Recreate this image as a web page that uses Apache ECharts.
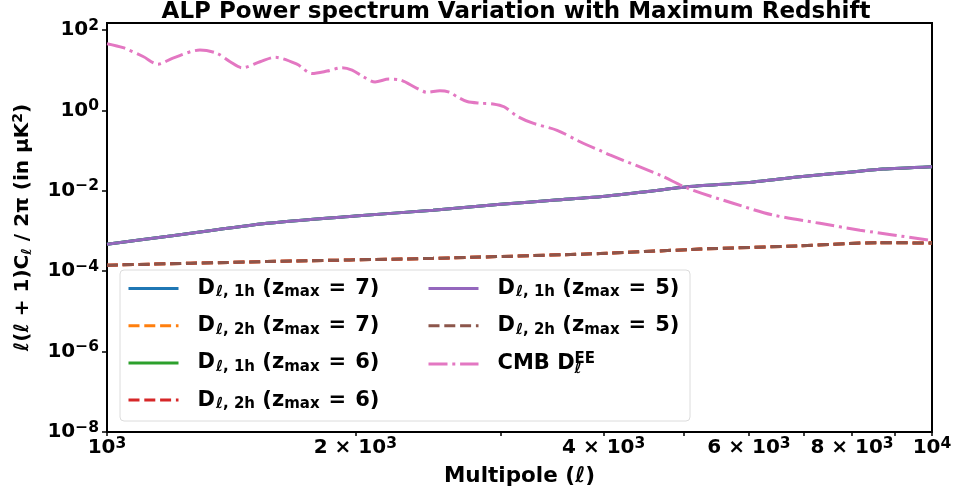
<!DOCTYPE html>
<html><head><meta charset="utf-8">
<script src="https://cdn.jsdelivr.net/npm/echarts@6/dist/echarts.min.js"></script>
<style>html,body{margin:0;padding:0;background:#fff}#c{width:957px;height:495px}</style>
</head><body><div id="c"></div>
<script>
// ---- data ----
const lMultipoles1h = [1000,1200,1563,2000,2484,3000,3500,3960,4500,5060,6015,6918,8000,8721,10000];
const d1hValues = [4.7e-4,7.6e-4,1.55e-3,2.35e-3,3.3e-3,4.6e-3,5.9e-3,7.1e-3,9.5e-3,1.26e-2,1.62e-2,2.24e-2,2.95e-2,3.47e-2,3.98e-2];
const lMultipoles2h = [1000,1563,2484,3960,5234,6918,8600,10000];
const d2hValues = [1.41e-4,1.74e-4,2.09e-4,2.75e-4,3.55e-4,4.27e-4,5.13e-4,5.0e-4];
const lMultipolesCMB = [1000,1046,1106,1153,1202,1296,1359,1410,1458,1533,1598,1699,1772,1848,1927,1982,2044,2113,2197,2264,2375,2443,2532,2604,2656,2732,2833,2937,3029,3140,3283,3512,3745,3993,4069,4680,5060,5739,6415,7315,8180,10000];
const cmbEEValues = [45.7,36.3,21.9,14.1,20.0,31.6,26.3,16.2,11.5,16.2,20.9,14.1,8.3,9.5,11.5,10.0,6.9,5.1,6.0,5.75,3.55,2.82,3.09,2.82,2.19,1.66,1.51,1.45,1.23,0.72,0.48,0.32,0.166,0.093,0.078,0.0245,0.0115,0.0049,0.0025,0.00155,0.00105,0.00058];
const zmaxValues = [7,7,6,6,5,5];
const haloTerms = ['1h','2h','1h','2h','1h','2h'];
const xTickLabels = [1000,2000,4000,6000,8000,10000];
const xTickMarks = [1000,2000,3000,4000,5000,6000,7000,8000,9000,10000];
const yTickExponents = [-8,-6,-4,-2,0,2];

// ---- build ----
const FONT = 'DejaVu Sans';
const colors = ['#1f77b4','#ff7f0e','#2ca02c','#d62728','#9467bd','#8c564b','#e377c2'];
const pts = (ls, vs) => ls.map((l, i) => [Math.log10(l), Math.log10(vs[i])]);
const names = haloTerms.map((h, i) => 'D_' + h + '_' + zmaxValues[i]).concat(['CMB']);

const series = haloTerms.map((h, i) => ({
  name: names[i], type: 'line', symbol: 'none', smooth: 0.2,
  data: h === '1h' ? pts(lMultipoles1h, d1hValues) : pts(lMultipoles2h, d2hValues),
  lineStyle: { color: colors[i], width: 3, type: h === '1h' ? 'solid' : [11, 4.8], cap: 'butt' },
  itemStyle: { color: colors[i] }, z: 2 + i * 0.01
}));
series.push({
  name: 'CMB', type: 'line', symbol: 'none', smooth: 0.3,
  data: pts(lMultipolesCMB, cmbEEValues),
  lineStyle: { color: colors[6], width: 3, type: [19, 4.8, 3, 4.8], cap: 'butt' },
  itemStyle: { color: colors[6] }, z: 3
});

const bold = (fs, extra) => Object.assign({ fontSize: fs, fontWeight: 'bold', fontFamily: FONT, color: '#000' }, extra || {});
const legendRich = {
  d0: bold(21, { lineHeight: 24, padding: [0, 0, 0, 14] }),
  d: bold(21, { lineHeight: 24 }),
  sp: bold(21, { lineHeight: 24, width: 9 }),
  li: bold(15, { lineHeight: 15, padding: [8, 0, 0, 1], fontStyle: 'italic' }),
  sub: bold(15, { lineHeight: 15, padding: [8, 0, 0, 0] }),
  sup: bold(15, { lineHeight: 15, padding: [0, 0, 10, 0] }),
  subl: bold(15, { lineHeight: 15, padding: [10, 0, 0, 0], fontStyle: 'italic', width: 0 })
};
const legendFmt = (n) => {
  if (n === 'CMB') return '{d0|CMB D}{subl|ℓ}{sup|EE}';
  const i = names.indexOf(n);
  return '{d0|D}{li|ℓ}{sub|, ' + haloTerms[i] + '}{d| (z}{sub|max}{sp| }{d|=}{sp| }{d|' + zmaxValues[i] + ')}';
};
const legendCommon = {
  orient: 'vertical', padding: 0, itemGap: 14.2, itemWidth: 50, itemHeight: 14,
  formatter: legendFmt, textStyle: { rich: legendRich },
  lineStyle: { width: 3 }, itemStyle: { opacity: 0, borderWidth: 0 },
  selectedMode: false, top: 277
};

const tickRich = {
  b: bold(20, { lineHeight: 20 }),
  s: bold(15.5, { lineHeight: 15, padding: [0, 0, 9, 0] })
};
const xFmt = (v) => {
  const l = Math.round(Math.pow(10, v));
  const e = Math.floor(Math.log10(l) + 1e-9);
  const m = Math.round(l / Math.pow(10, e));
  return (m === 1 ? '{b|10}' : '{b|' + m + ' × 10}') + '{s|' + e + '}';
};
const yFmt = (v) => '{b|10}{s|' + (v < 0 ? '−' + (-v) : v) + '}';

const chart = echarts.init(document.getElementById('c'));
chart.setOption({
  animation: false,
  backgroundColor: '#fff',
  title: {
    text: 'ALP Power spectrum Variation with Maximum Redshift',
    left: 516, textAlign: 'center', top: 2, padding: 0,
    textStyle: bold(23, { lineHeight: 20 })
  },
  grid: { left: 107, right: 25, top: 23, bottom: 63, show: true, borderColor: '#000', borderWidth: 2, backgroundColor: 'transparent' },
  xAxis: {
    type: 'value', min: 3, max: 4,
    name: 'Multipole (ℓ)', nameLocation: 'middle', nameGap: 32,
    nameTextStyle: bold(21.5),
    axisLine: { onZero: false, lineStyle: { color: '#000', width: 2 } },
    axisTick: { customValues: xTickMarks.map(Math.log10), length: 4, lineStyle: { color: '#000', width: 1.5 } },
    axisLabel: { customValues: xTickLabels.map(Math.log10), formatter: xFmt, margin: 6, rich: tickRich },
    splitLine: { show: false }
  },
  yAxis: {
    type: 'value', min: -8, max: 2.174, interval: 2,
    name: '{i|ℓ}{b|(}{i|ℓ}{b| + 1)C}{sub|ℓ}{b| / 2π (in μK}{sup|2}{b|)}',
    nameLocation: 'middle', nameGap: 72, nameRotate: 90,
    nameTextStyle: {
      rich: {
        b: bold(20, { lineHeight: 24 }),
        i: bold(20, { lineHeight: 24, fontStyle: 'italic' }),
        sub: bold(14, { lineHeight: 14, padding: [8, 0, 0, 0], fontStyle: 'italic' }),
        sup: bold(14, { lineHeight: 14, padding: [0, 0, 10, 0] })
      }
    },
    axisLine: { show: true, onZero: false, lineStyle: { color: '#000', width: 2 } },
    axisTick: { show: true, customValues: yTickExponents, length: 5, lineStyle: { color: '#000', width: 1.5 } },
    axisLabel: { customValues: yTickExponents, formatter: yFmt, margin: 8, rich: tickRich },
    splitLine: { show: false }
  },
  legend: [
    Object.assign({ left: 127, data: names.slice(0, 4) }, legendCommon),
    Object.assign({ left: 427, data: names.slice(4) }, legendCommon)
  ],
  graphic: [{
    type: 'rect', z: 3, silent: true,
    shape: { x: 120, y: 270, width: 570, height: 151, r: 4 },
    style: { fill: 'rgba(255,255,255,0.8)', stroke: '#dcdcdc', lineWidth: 1 }
  }],
  series: series
});
</script>
</body></html>
